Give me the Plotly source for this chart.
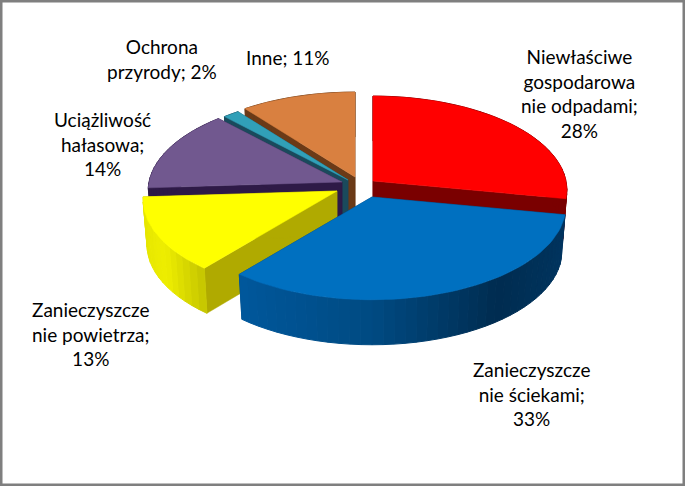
import math
import plotly.graph_objects as go

CATEGORIES = ["Niewłaściwe gospodarowanie odpadami", "Zanieczyszczenie ściekami",
              "Zanieczyszczenie powietrza", "Uciążliwość hałasowa",
              "Ochrona przyrody", "Inne"]
# Slice sizes (labels show them rounded)
VALUES = [28, 33, 13, 14, 1.5, 10.5]
LABELS = ["Niewłaściwe<br>gospodarowa<br>nie odpadami;<br>28%",
          "Zanieczyszcze<br>nie ściekami;<br>33%",
          "Zanieczyszcze<br>nie powietrza;<br>13%",
          "Uciążliwość<br>hałasowa;<br>14%",
          "Ochrona<br>przyrody; 2%",
          "Inne; 11%"]

# style / layout (pixel-space pie projection)
TOP_COLORS = ["#ff0000", "#0070c0", "#ffff00", "#71588f", "#31a0b8", "#d98040"]
EDGE_COLORS = ["#7a0000", "#003a66", "#b0aa00", "#2e1a47", "#1a4a5c", "#6b3a17"]
WALL_STOPS = [
    [(-1, "#7a0000"), (1, "#7a0000")],
    [(-1, "#00599e"), (-0.7, "#00599e"), (0, "#004a82"), (0.6, "#002c50"), (1, "#003560")],
    [(-1, "#e6e600"), (-0.85, "#eeee00"), (-0.64, "#c4c400"), (1, "#c4c400")],
    [(-1, "#2e1a47"), (1, "#2e1a47")],
    [(-1, "#1a4a5c"), (1, "#1a4a5c")],
    [(-1, "#6b3a17"), (1, "#6b3a17")],
]
APEX = [(373, 181), (372, 197), (337, 191), (342, 182), (348, 180), (355, 177)]
LABEL_POS = [(579, 93), (531, 394), (91, 334), (102, 144), (162, 59), (288, 57)]
DRAW_ORDER = [5, 4, 3, 2, 0, 1]
RX, RY, K, DEPTH, BOTTOM_SCALE_X = 193, 93, 0.095, 45, 0.98
W, H = 685, 486


def project(apex, theta, bottom=False):
    u, v = math.sin(theta), math.cos(theta)
    d = 1 + K * v
    s = BOTTOM_SCALE_X if bottom else 1
    return (apex[0] + s * RX * u / d,
            apex[1] - RY * v / d + (DEPTH if bottom else 0))


def wall_color(stops, u):
    for (a, ca), (b, cb) in zip(stops, stops[1:]):
        if a <= u <= b:
            t = (u - a) / (b - a)
            rgb = [round(int(ca[i:i+2], 16) * (1 - t) + int(cb[i:i+2], 16) * t) for i in (1, 3, 5)]
            return "rgb(%d,%d,%d)" % tuple(rgb)
    return stops[-1][1]


def poly(fig, pts, color, line=0.0):
    xs = [p[0] for p in pts] + [pts[0][0]]
    ys = [p[1] for p in pts] + [pts[0][1]]
    fig.add_trace(go.Scatter(x=xs, y=ys, mode="lines", fill="toself", fillcolor=color,
                             line=dict(color=color, width=line), hoverinfo="skip",
                             showlegend=False))


total = sum(VALUES)
angles = [0.0]
for val in VALUES:
    angles.append(angles[-1] + val / total * 2 * math.pi)

fig = go.Figure()
for i in DRAW_ORDER:
    a0, a1 = angles[i], angles[i + 1]
    apex = APEX[i]
    apex_b = (apex[0], apex[1] + DEPTH)
    # radial walls
    for th in (a0, a1):
        poly(fig, [apex, project(apex, th), project(apex, th, True), apex_b], EDGE_COLORS[i], 0.5)
    # outer wall
    n = max(2, int((a1 - a0) / math.radians(3)))
    for j in range(n):
        t0 = a0 + (a1 - a0) * j / n
        t1 = a0 + (a1 - a0) * (j + 1) / n
        col = wall_color(WALL_STOPS[i], math.sin((t0 + t1) / 2))
        poly(fig, [project(apex, t0), project(apex, t1),
                   project(apex, t1, True), project(apex, t0, True)], col, 1)
    # top face
    arc = [project(apex, a0 + (a1 - a0) * j / 60) for j in range(61)]
    poly(fig, [apex] + arc, TOP_COLORS[i], 0.5)

for text, (x, y) in zip(LABELS, LABEL_POS):
    fig.add_annotation(x=x, y=y, text=text, showarrow=False, align="center",
                       xanchor="center", yanchor="middle",
                       font=dict(family="Lato", size=19, color="#000000"))

fig.add_shape(type="rect", xref="paper", yref="paper", x0=0, y0=0, x1=1, y1=1,
              line=dict(color="#7f7f7f", width=5), fillcolor="rgba(0,0,0,0)")

fig.update_layout(width=W, height=H, margin=dict(l=0, r=0, t=0, b=0),
                  paper_bgcolor="white", plot_bgcolor="white", showlegend=False,
                  xaxis=dict(range=[0, W], visible=False, fixedrange=True),
                  yaxis=dict(range=[H, 0], visible=False, fixedrange=True))
fig.write_html("out.html", config={"displayModeBar": False},
               post_script="document.body.style.margin='0';")
